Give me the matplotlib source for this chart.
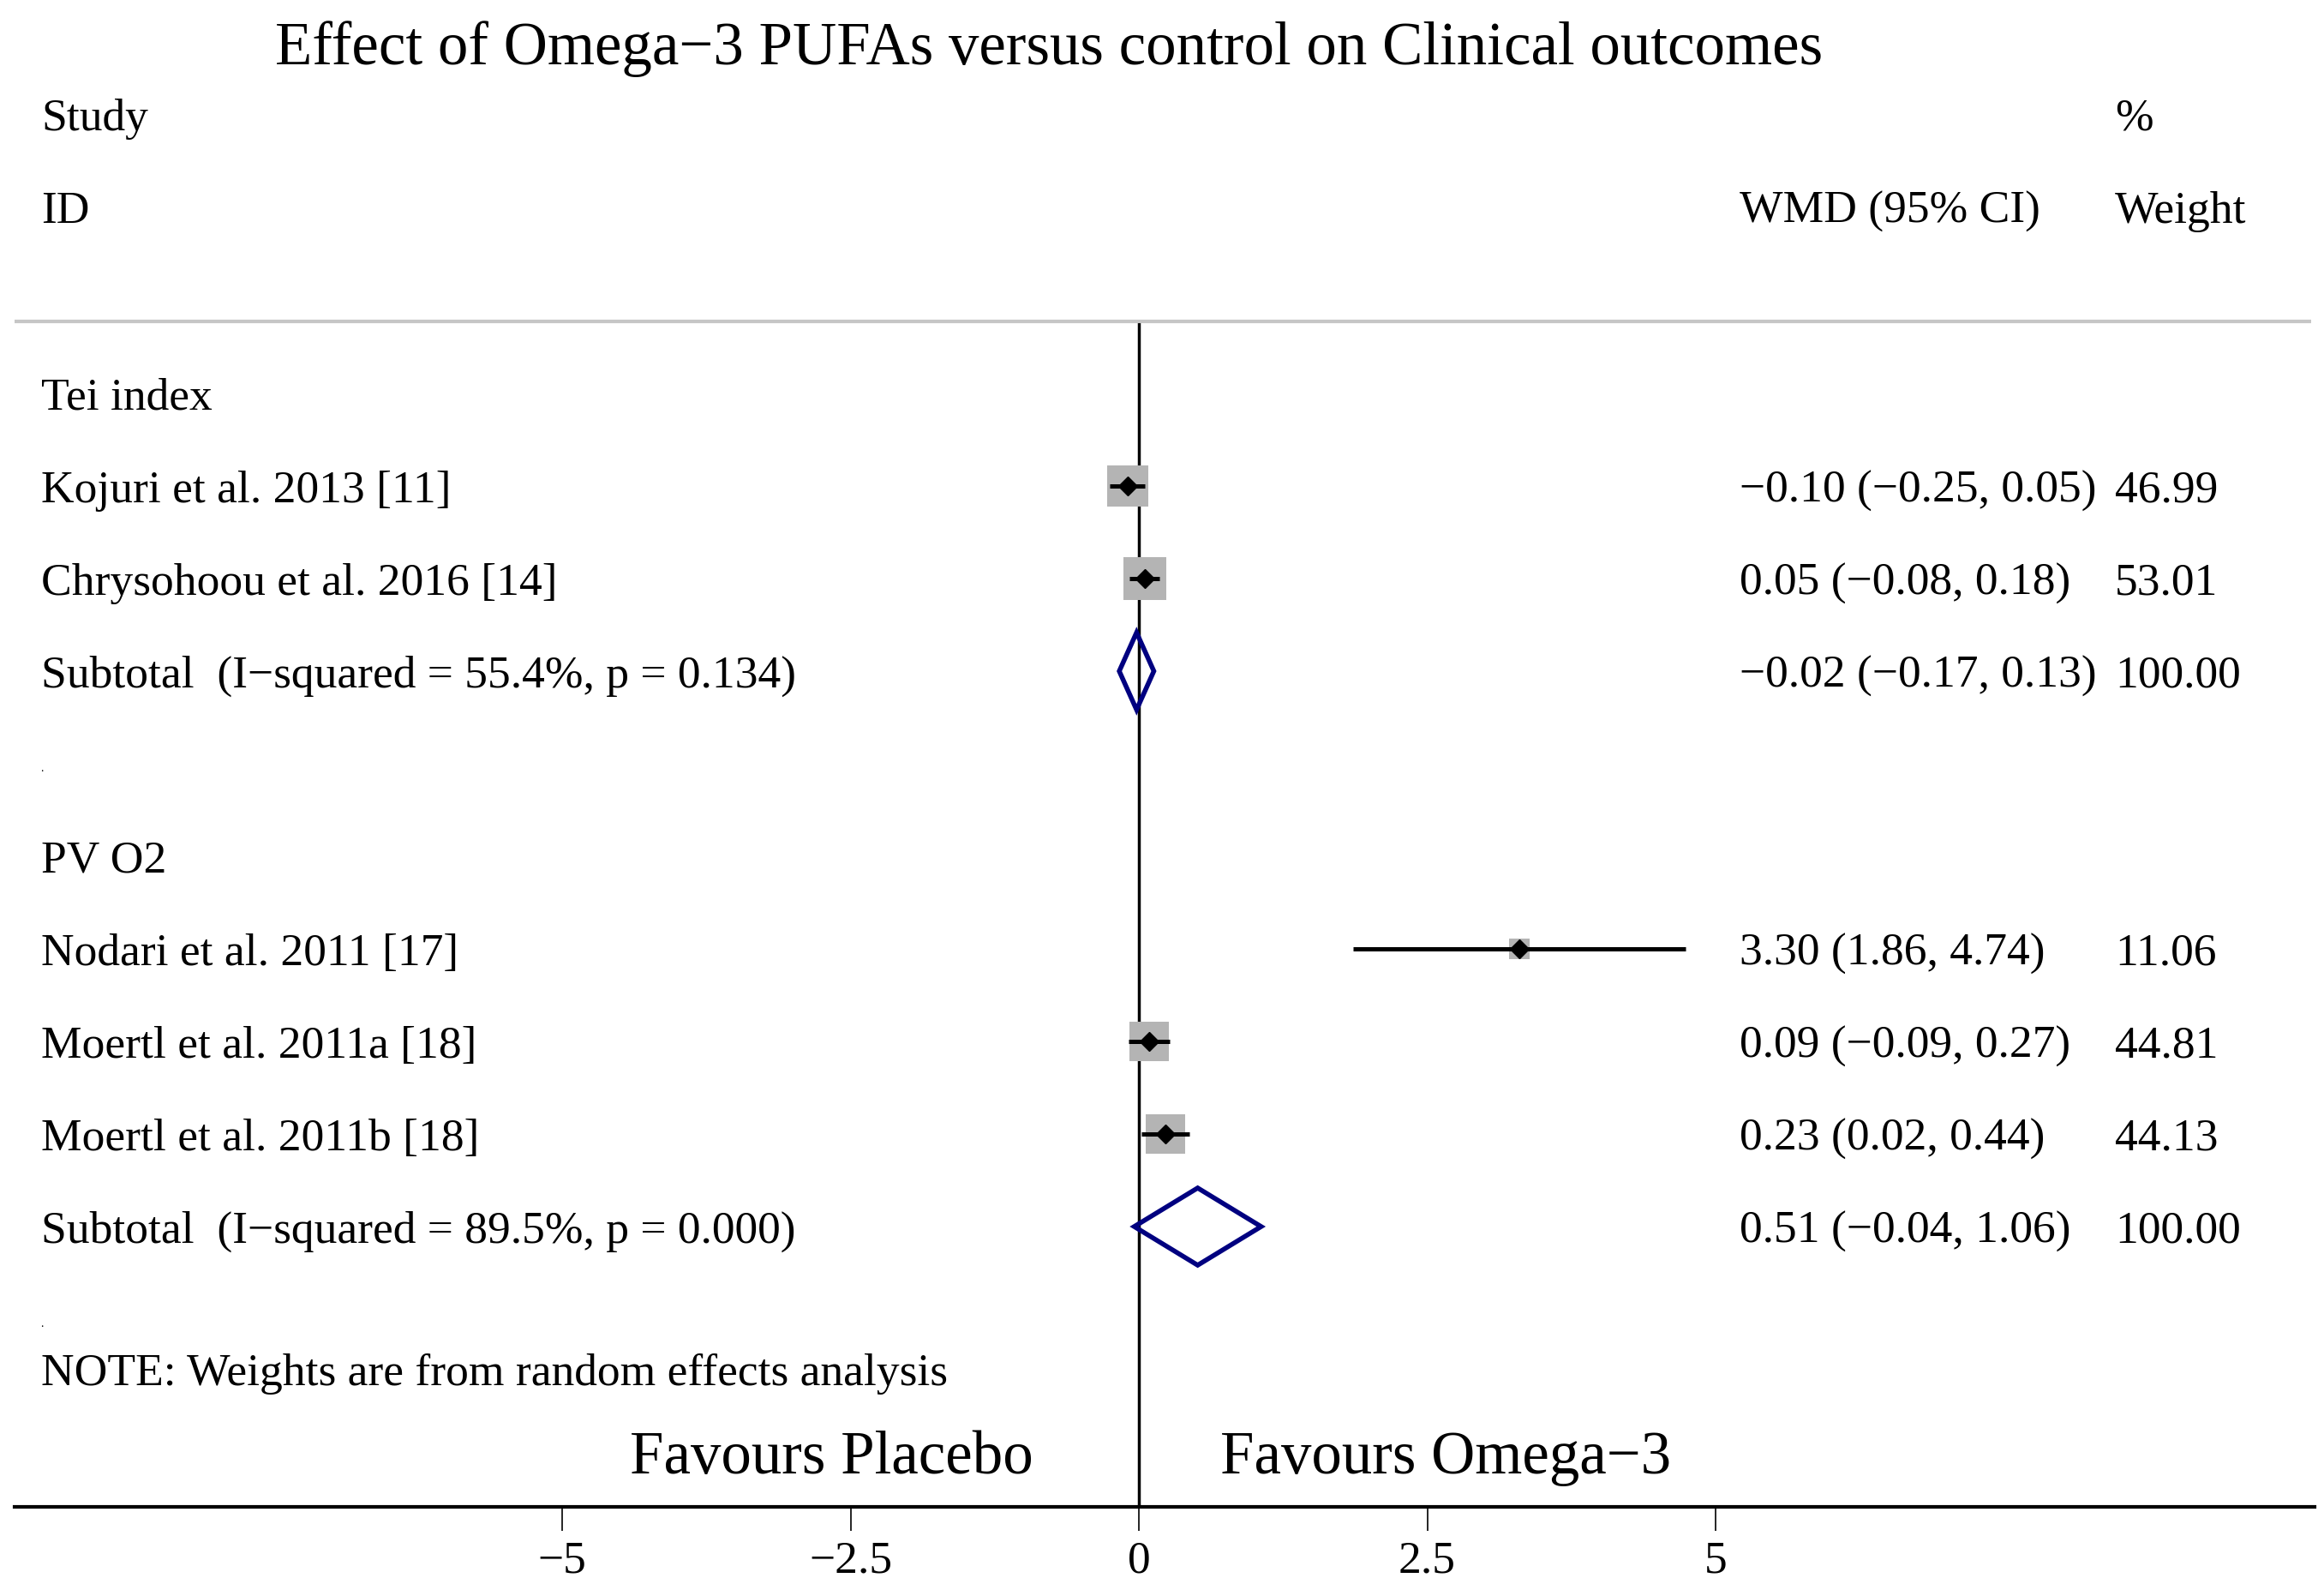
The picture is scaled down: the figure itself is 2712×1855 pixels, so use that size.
import numpy as np
import matplotlib.pyplot as plt
from matplotlib.patches import Polygon

plt.rcParams["font.family"] = ["Liberation Serif", "DejaVu Serif"]

# study rows (label, estimate, lower, upper, weight)
groups = ["Tei index", "PV O2"]
studies = [
    ["Kojuri et al. 2013 [11]", "Chrysohoou et al. 2016 [14]"],
    ["Nodari et al. 2011 [17]", "Moertl et al. 2011a [18]", "Moertl et al. 2011b [18]"],
]
est = [[-0.10, 0.05], [3.30, 0.09, 0.23]]
lci = [[-0.25, -0.08], [1.86, -0.09, 0.02]]
uci = [[0.05, 0.18], [4.74, 0.27, 0.44]]
weights = [[46.99, 53.01], [11.06, 44.81, 44.13]]

sub_labels = ["Subtotal  (I\u2212squared = 55.4%, p = 0.134)",
              "Subtotal  (I\u2212squared = 89.5%, p = 0.000)"]
sub_est = [-0.02, 0.51]
sub_lci = [-0.17, -0.04]
sub_uci = [0.13, 1.06]

xticks = [-5, -2.5, 0, 2.5, 5]
xticklabels = ["\u22125", "\u22122.5", "0", "2.5", "5"]

title = "Effect of Omega\u22123 PUFAs versus control on Clinical outcomes"

# layout (pixels of a 2712x1856 canvas)
W, H = 2712, 1856
X0_PX, UNIT_PX = 1329, 134.6     # x = 0 position and pixels per unit
ROW0_PX, ROW_PX = 460, 108.0     # first row centre and row spacing
AX_L, AX_R, AX_B = 17, 2701, 1759

def px2x(p):
    return (p - X0_PX) / UNIT_PX

def px2row(p):
    return (p - ROW0_PX) / ROW_PX

fig = plt.figure(figsize=(W / 100, H / 100), dpi=100)
ax = fig.add_axes([AX_L / W, (H - AX_B) / H, (AX_R - AX_L) / W, AX_B / H])
ax.set_xlim(px2x(AX_L), px2x(AX_R))
ax.set_ylim(px2row(AX_B), px2row(0))

FS = 38.5
FS_BIG = 51
cap = 0.33 * FS * 100 / 72 / ROW_PX   # half cap height in rows (body font)
cap_big = 0.33 * FS_BIG * 100 / 72 / ROW_PX

x_lab = px2x(48)
x_ci = px2x(2030)
x_w = px2x(2468)

def fmt(v):
    return f"{v:.2f}".replace("-", "\u2212")

# headers
ax.text(px2x(1224), px2row(52) + cap_big, title, ha="center", va="baseline", fontsize=FS_BIG)
ax.text(x_lab, px2row(134) + cap, "Study", va="baseline", fontsize=FS)
ax.text(x_lab, px2row(242) + cap, "ID", va="baseline", fontsize=FS)
ax.text(x_w, px2row(134) + cap, "%", va="baseline", fontsize=FS)
ax.text(x_ci, px2row(242) + cap, "WMD (95% CI)", va="baseline", fontsize=FS)
ax.text(x_w, px2row(242) + cap, "Weight", va="baseline", fontsize=FS)
ax.plot([px2x(17), px2x(2697)], [px2row(376)] * 2, color="#c6c6c6", lw=3, solid_capstyle="butt")

row = 0
for g in range(len(groups)):
    ax.text(x_lab, row + cap, groups[g], va="baseline", fontsize=FS)
    row += 1
    for i in range(len(studies[g])):
        ax.text(x_lab, row + cap, studies[g][i], va="baseline", fontsize=FS)
        ax.text(x_ci, row + cap, f"{fmt(est[g][i])} ({fmt(lci[g][i])}, {fmt(uci[g][i])})",
                va="baseline", fontsize=FS)
        ax.text(x_w, row + cap, f"{weights[g][i]:.2f}", va="baseline", fontsize=FS)
        side = 7.0 * np.sqrt(weights[g][i]) * 0.72
        ax.scatter([est[g][i]], [row], marker="s", s=side ** 2, color="#b4b4b4",
                   linewidths=0, zorder=2)
        ax.plot([lci[g][i], uci[g][i]], [row, row], color="black", lw=3.6,
                solid_capstyle="butt", zorder=3)
        ax.plot([est[g][i]], [row], marker="D", ms=11, color="black", zorder=4)
        row += 1
    ax.text(x_lab, row + cap, sub_labels[g], va="baseline", fontsize=FS)
    ax.text(x_ci, row + cap, f"{fmt(sub_est[g])} ({fmt(sub_lci[g])}, {fmt(sub_uci[g])})",
            va="baseline", fontsize=FS)
    ax.text(x_w, row + cap, "100.00", va="baseline", fontsize=FS)
    h = 0.417
    ax.add_patch(Polygon([(sub_lci[g], row), (sub_est[g], row - h), (sub_uci[g], row),
                          (sub_est[g], row + h)], closed=True, fill=False,
                         edgecolor="#000080", lw=4, joinstyle="miter", zorder=5))
    row += 1
    ax.text(px2x(47), row + 0.07, ".", va="baseline", fontsize=10)
    row += 1

ax.text(x_lab, px2row(1598) + cap, "NOTE: Weights are from random effects analysis",
        va="baseline", fontsize=FS)

# zero line
ax.plot([0, 0], [px2row(377), px2row(AX_B)], color="black", lw=2.5, zorder=1)

ax.text(px2x(1206), px2row(1696) + cap_big, "Favours Placebo", ha="right", va="baseline",
        fontsize=FS_BIG)
ax.text(px2x(1424), px2row(1696) + cap_big, "Favours Omega\u22123", ha="left", va="baseline",
        fontsize=FS_BIG)

# x axis
for s in ["top", "left", "right"]:
    ax.spines[s].set_visible(False)
ax.spines["bottom"].set_linewidth(3)
ax.set_yticks([])
ax.set_xticks(xticks)
ax.set_xticklabels(xticklabels, fontsize=FS)
ax.tick_params(axis="x", direction="out", length=20, width=1.2, pad=8)

fig.savefig("out.png", dpi=100)
